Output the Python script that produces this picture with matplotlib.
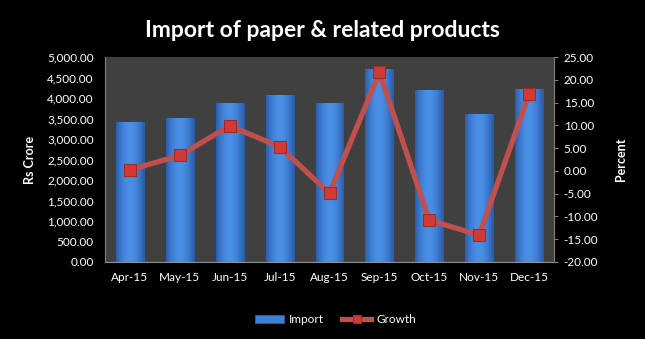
import matplotlib.pyplot as plt
import numpy as np

months = ['Apr-15', 'May-15', 'Jun-15', 'Jul-15', 'Aug-15', 'Sep-15', 'Oct-15', 'Nov-15', 'Dec-15']
imports = [3420, 3505, 3885, 4075, 3885, 4705, 4195, 3610, 4220]
growth = [0.2, 3.4, 9.9, 5.3, -4.9, 21.6, -10.8, -14.1, 16.8]

plt.rcParams['font.family'] = ['Lato', 'DejaVu Sans']

fig = plt.figure(figsize=(6.45, 3.39), dpi=100, facecolor='black')
ax = fig.add_axes([105 / 645, 1 - 262 / 339, 449 / 645, 205 / 339])
ax.set_facecolor('#404040')

x = np.arange(len(months))
bars = ax.bar(x, imports, width=0.56, color='#3d7fd6', edgecolor='#2a5ea8',
              linewidth=0.6, label='Import', zorder=2)

# horizontal shading on each bar
grad = np.linspace(0, 1, 64)
shade = np.vstack([np.sin(np.pi * grad) * 0.6 + 0.4] * 2)
cmap = plt.matplotlib.colors.LinearSegmentedColormap.from_list('b', ['#2a5fae', '#4a8fe6'])
for b in bars:
    im = ax.imshow(shade, cmap=cmap, aspect='auto', zorder=2.1,
                   extent=[b.get_x(), b.get_x() + b.get_width(), 0, b.get_height()])
    im.set_clip_path(b)

ax.set_xlim(-0.5, len(months) - 0.5)
ax.set_ylim(0, 5000)
ax.set_yticks(np.arange(0, 5001, 500))
ax.set_yticklabels(['{:,.2f}'.format(v) for v in np.arange(0, 5001, 500)])
ax.set_xticks(x)
ax.set_xticklabels(months)
ax.tick_params(colors='white', labelsize=8.5, length=0, pad=7)
ax.tick_params(axis='y', pad=8)
for s in ['top', 'right']:
    ax.spines[s].set_visible(False)
ax.spines['left'].set_color('#808080')
ax.spines['bottom'].set_color('#909090')
ax.set_ylabel('Rs Crore', color='white', fontsize=9, fontweight='bold', labelpad=8)

ax2 = ax.twinx()
line, = ax2.plot(x, growth, color='#c0504d', linewidth=3.8, marker='s', markersize=9,
                 markerfacecolor='#d23a36', markeredgecolor='#9b2c2a', markeredgewidth=0.8,
                 label='Growth', zorder=3)
ax2.set_ylim(-20, 25)
ax2.set_yticks(np.arange(-20, 26, 5))
ax2.set_yticklabels(['{:.2f}'.format(v) for v in np.arange(-20, 26, 5)])
ax2.tick_params(colors='white', labelsize=8.5, length=3, pad=4)
ax2.tick_params(axis='y', color='#808080')
for s in ['top', 'left', 'bottom']:
    ax2.spines[s].set_visible(False)
ax2.spines['right'].set_color('#808080')
ax2.set_ylabel('Percent', color='white', fontsize=9, fontweight='bold', labelpad=12)

fig.suptitle('Import of paper & related products', color='white', fontsize=16.5,
             fontweight='bold', y=0.94)

leg = fig.legend([bars, line], ['Import', 'Growth'], loc='center', ncol=2,
                 bbox_to_anchor=(0.52, 0.058), frameon=False, fontsize=8.5,
                 handlelength=2.5, columnspacing=1.5, handletextpad=0.4,
                 markerscale=0.7)
for t in leg.get_texts():
    t.set_color('white')

fig.savefig('out.png', dpi=100, facecolor='black')
